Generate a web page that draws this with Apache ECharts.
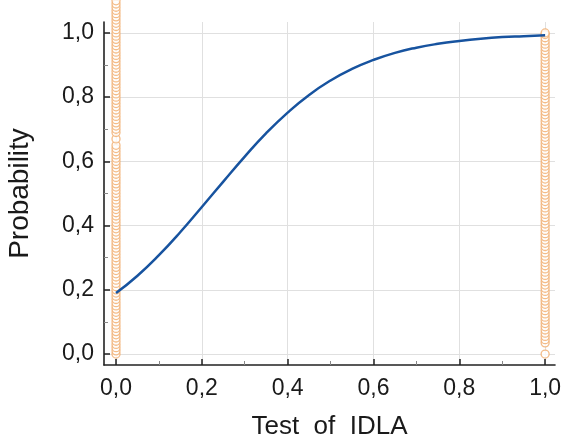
<!DOCTYPE html>
<html>
<head>
<meta charset="utf-8">
<script src="https://cdn.jsdelivr.net/npm/echarts@6/dist/echarts.min.js"></script>
<style>
html, body { margin: 0; padding: 0; background: #fff; }
#main { width: 567px; height: 438px; }
</style>
</head>
<body>
<div id="main"></div>
<script>
var dom = document.getElementById("main");
var myChart = echarts.init(dom);

// fitted probability curve
var curveX = [0, 0.05, 0.1, 0.15, 0.2, 0.25, 0.3, 0.35, 0.4, 0.45, 0.5,
              0.55, 0.6, 0.65, 0.7, 0.75, 0.8, 0.85, 0.9, 0.95, 1.0];
var curveY = [0.190, 0.244, 0.308, 0.380, 0.458, 0.537, 0.615, 0.688, 0.752, 0.807, 0.852,
              0.888, 0.916, 0.938, 0.954, 0.966, 0.975, 0.982, 0.987, 0.990, 0.993];

// observed cases (stacked circles) at test = 0 and test = 1
var obsY0 = [0.00, 0.01, 0.02, 0.03, 0.04, 0.05, 0.06, 0.07, 0.08, 0.09,
             0.10, 0.11, 0.12, 0.13, 0.14, 0.15, 0.16, 0.17, 0.18, 0.19,
             0.20, 0.21, 0.22, 0.23, 0.24, 0.25, 0.26, 0.27, 0.28, 0.29,
             0.30, 0.31, 0.32, 0.33, 0.34, 0.35, 0.36, 0.37, 0.38, 0.39,
             0.40, 0.41, 0.42, 0.43, 0.44, 0.45, 0.46, 0.47, 0.48, 0.49,
             0.50, 0.51, 0.52, 0.53, 0.54, 0.55, 0.56, 0.57, 0.58, 0.59,
             0.60, 0.61, 0.62, 0.63, 0.64, 0.65, 0.67, 0.69, 0.70,
             0.71, 0.72, 0.73, 0.74, 0.75, 0.76, 0.77, 0.78, 0.79,
             0.80, 0.81, 0.82, 0.83, 0.84, 0.85, 0.86, 0.87, 0.88, 0.89,
             0.90, 0.91, 0.92, 0.93, 0.94, 0.95, 0.96, 0.97, 0.98, 0.99,
             1.00, 1.01, 1.02, 1.03, 1.04, 1.05, 1.06, 1.07, 1.08, 1.09, 1.10];
var obsY1 = [0.00,
             0.035, 0.045, 0.055, 0.065, 0.075, 0.085, 0.095,
             0.105, 0.115, 0.125, 0.135, 0.145, 0.155, 0.165, 0.175, 0.185, 0.195,
             0.205, 0.215, 0.225, 0.235, 0.245, 0.255, 0.265, 0.275, 0.285, 0.295,
             0.305, 0.315, 0.325, 0.335, 0.345, 0.355, 0.365, 0.375, 0.385, 0.395,
             0.405, 0.415, 0.425, 0.435, 0.445, 0.455, 0.465, 0.475, 0.485, 0.495,
             0.505, 0.515, 0.525, 0.535, 0.545, 0.555, 0.565, 0.575, 0.585, 0.595,
             0.605, 0.615, 0.625, 0.635, 0.645, 0.655, 0.665, 0.675, 0.685, 0.695,
             0.705, 0.715, 0.725, 0.735, 0.745, 0.755, 0.765, 0.775, 0.785, 0.795,
             0.805, 0.815, 0.825, 0.835, 0.845, 0.855, 0.865, 0.875, 0.885, 0.895,
             0.905, 0.915, 0.925, 0.935, 0.945, 0.955, 0.965, 0.975, 0.985, 0.995, 1.00];

var majorTicks = [0, 0.2, 0.4, 0.6, 0.8, 1.0];
var minorTicks = [0.1, 0.3, 0.5, 0.7, 0.9];

var fontFam = "Liberation Sans, Arial, sans-serif";
function fmt(v) { return v.toFixed(1).replace('.', ','); }

var curveData = curveX.map(function (x, i) { return [x, curveY[i]]; });
var obsData = obsY0.map(function (y) { return [0, y]; })
    .concat(obsY1.map(function (y) { return [1, y]; }));

var option = {
    backgroundColor: '#fff',
    animation: false,
    grid: { left: 104, top: 22, right: 12, bottom: 73, outerBoundsMode: 'none', containLabel: false },
    xAxis: [
        {
            type: 'value',
            min: -0.028,
            max: 1.023,
            name: 'Test  of  IDLA',
            nameLocation: 'middle',
            nameGap: 49,
            nameTextStyle: { fontFamily: fontFam, fontSize: 26, color: '#1a1a1a' },
            axisLine: { show: true, onZero: false, lineStyle: { color: '#222', width: 1.6 } },
            axisTick: { show: true, inside: true, length: 6, customValues: majorTicks,
                        lineStyle: { color: '#222', width: 1.5 } },
            axisLabel: { customValues: majorTicks, formatter: fmt, margin: 12,
                         fontFamily: fontFam, fontSize: 23, color: '#1a1a1a' },
            splitLine: { show: true, lineStyle: { color: '#e0e0e0', width: 1 } }
        },
        {
            type: 'value',
            gridIndex: 0,
            position: 'bottom',
            min: -0.028,
            max: 1.023,
            axisLine: { show: false, onZero: false },
            axisTick: { show: true, inside: true, length: 4, customValues: minorTicks,
                        lineStyle: { color: '#888', width: 1 } },
            axisLabel: { show: false },
            splitLine: { show: false }
        }
    ],
    yAxis: [
        {
            type: 'value',
            min: -0.034,
            max: 1.034,
            name: 'Probability',
            nameLocation: 'middle',
            nameGap: 70,
            nameTextStyle: { fontFamily: fontFam, fontSize: 28, color: '#1a1a1a' },
            axisLine: { show: true, onZero: false, lineStyle: { color: '#222', width: 1.6 } },
            axisTick: { show: true, inside: true, length: 6, customValues: majorTicks,
                        lineStyle: { color: '#222', width: 1.5 } },
            axisLabel: { customValues: majorTicks, formatter: fmt, margin: 10,
                         fontFamily: fontFam, fontSize: 23, color: '#1a1a1a' },
            splitLine: { show: true, lineStyle: { color: '#e0e0e0', width: 1 } }
        },
        {
            type: 'value',
            gridIndex: 0,
            position: 'left',
            min: -0.034,
            max: 1.034,
            axisLine: { show: false, onZero: false },
            axisTick: { show: true, inside: true, length: 4, customValues: minorTicks,
                        lineStyle: { color: '#888', width: 1 } },
            axisLabel: { show: false },
            splitLine: { show: false }
        }
    ],
    series: [
        {
            name: 'observed',
            type: 'scatter',
            clip: false,
            symbol: 'circle',
            symbolSize: 8,
            itemStyle: { color: '#fff', borderColor: '#f0ab6c', borderWidth: 1.3 },
            data: obsData,
            z: 2
        },
        {
            name: 'probability',
            type: 'line',
            smooth: true,
            showSymbol: false,
            lineStyle: { color: '#17539f', width: 2.5 },
            data: curveData,
            z: 3
        }
    ]
};

myChart.setOption(option, true);
</script>
</body>
</html>
